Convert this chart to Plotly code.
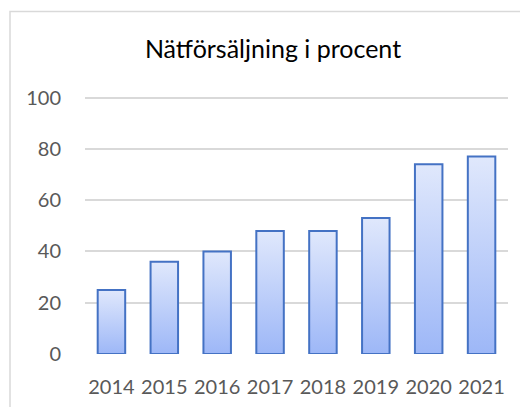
import plotly.graph_objects as go

years = ["2014", "2015", "2016", "2017", "2018", "2019", "2020", "2021"]
values = [25, 36, 40, 48, 48, 53, 74, 77]
y_ticks = [0, 20, 40, 60, 80, 100]
title_text = "Nätförsäljning i procent"

BAR_W = 0.52
FONT = "Lato, 'Open Sans', sans-serif"
GRAD = [[0, "#9db7f7"], [1, "#e0e8fc"]]
EDGE = "#4472c4"

# page has an 8px body margin; figure coordinates = page coordinates - 8
OFF = 8
W, H = 528 - OFF, 407 - OFF
Y_TOP = 100.6
PX_PER_UNIT = (354 - 98) / 100
ML = 85 - OFF
PW = 508 - 85
PH = PX_PER_UNIT * Y_TOP
MT = 354 - PH - OFF
MR = W - ML - PW
MB = H - MT - PH

fig = go.Figure()
idx = list(range(len(years)))

# gradient fill of each bar (one trace per bar so the gradient spans that bar)
for i, v in zip(idx, values):
    x0, x1 = i - BAR_W / 2, i + BAR_W / 2
    fig.add_trace(go.Scatter(
        x=[x0, x1, x1, x0, x0], y=[0, 0, v, v, 0],
        mode="lines", fill="toself", line=dict(width=0),
        fillgradient=dict(type="vertical", colorscale=GRAD),
        hoverinfo="skip", showlegend=False, xaxis="x", yaxis="y"))

# bar outlines on an overlaying axis so they draw above the fill
fig.add_trace(go.Bar(
    x=idx, y=values, width=BAR_W,
    marker=dict(color="rgba(0,0,0,0)", line=dict(color=EDGE, width=2)),
    showlegend=False, xaxis="x2", yaxis="y2"))

xr = [-0.5, len(years) - 0.5]
yr = [0, Y_TOP]
axis_common = dict(showline=False, zeroline=False)
top_px = 12 - OFF
left_px = 10 - OFF
fig.update_layout(
    width=W, height=H,
    margin=dict(l=ML, r=MR, t=MT, b=MB, autoexpand=False),
    paper_bgcolor="white", plot_bgcolor="white",
    font=dict(family=FONT, color="#595959"),
    title=dict(text=title_text, x=(273 - OFF) / W, xanchor="center", xref="container",
               y=1 - (49 - OFF) / H, yanchor="middle", yref="container",
               font=dict(family=FONT, size=25, color="#000000")),
    xaxis=dict(range=xr, tickvals=idx, ticktext=years, showgrid=False,
               tickfont=dict(size=20, color="#595959"), ticks="",
               ticklabelstandoff=19, **axis_common),
    yaxis=dict(range=yr, tickvals=y_ticks, showgrid=True, gridcolor="#d9d9d9",
               gridwidth=1.5, tickfont=dict(size=20, color="#595959"), ticks="",
               ticklabelstandoff=23, **axis_common),
    xaxis2=dict(range=xr, overlaying="x", visible=False, showgrid=False),
    yaxis2=dict(range=yr, overlaying="y", visible=False, showgrid=False),
    shapes=[
        dict(type="path", xref="paper", yref="paper",
             path=(f"M {(left_px - ML) / PW} {-0.5} "
                   f"L {(left_px - ML) / PW} {(H - MB - top_px) / PH} "
                   f"L 1.3 {(H - MB - top_px) / PH}"),
             line=dict(color="#d9d9d9", width=1.5)),
    ],
)

fig.write_html("out.html")
